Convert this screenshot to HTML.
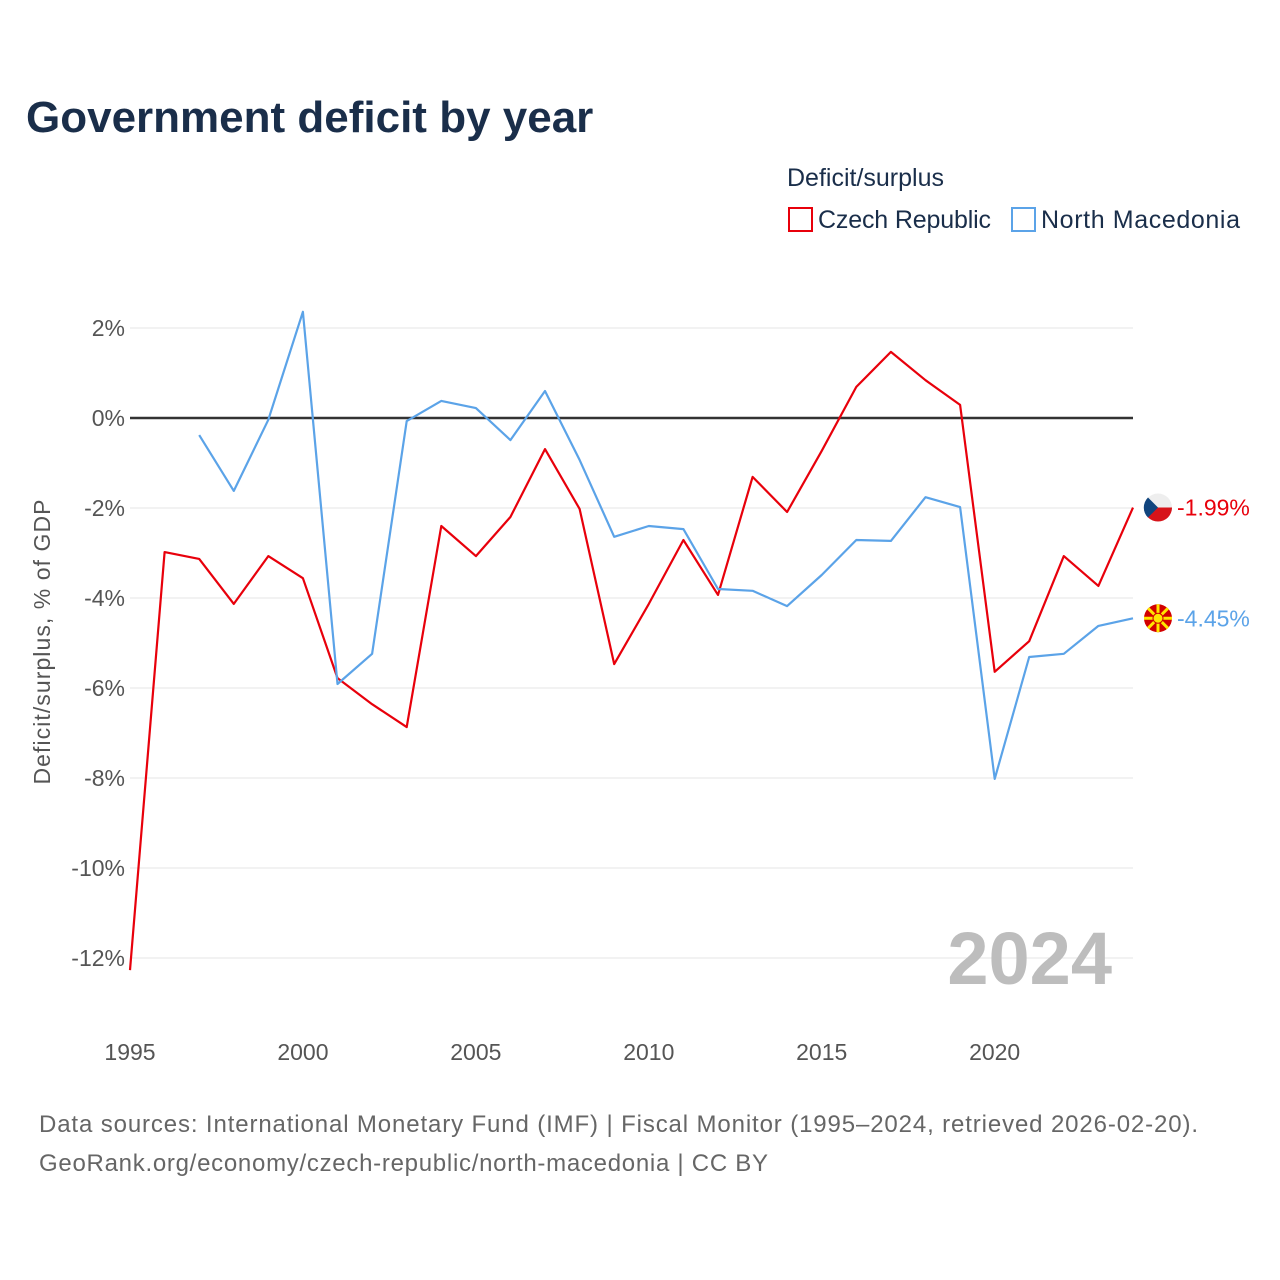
<!DOCTYPE html>
<html><head><meta charset="utf-8">
<style>
html,body{margin:0;padding:0;background:#fff;width:1280px;height:1280px;overflow:hidden}
svg text{font-family:"Liberation Sans",sans-serif}
</style></head>
<body>
<svg id="chart" width="1280" height="1280" xmlns="http://www.w3.org/2000/svg">
<text x="26" y="132" font-size="44" font-weight="bold" fill="#1a2e4a">Government deficit by year</text>
<text x="787" y="186" font-size="25" fill="#1a2e4a">Deficit/surplus</text>
<g>
<rect x="789" y="208" width="23" height="23" fill="none" stroke="#e8000b" stroke-width="2"/>
<text x="818" y="228" font-size="25" fill="#1a2e4a" textLength="173">Czech Republic</text></g>
<g>
<rect x="1012" y="208" width="23" height="23" fill="none" stroke="#5ba3e8" stroke-width="2"/>
<text x="1041" y="228" font-size="25" fill="#1a2e4a" textLength="199">North Macedonia</text></g>
<g id="grid"></g>
<g id="xaxis"></g>
<text transform="translate(50,642) rotate(-90)" text-anchor="middle" font-size="23" fill="#555" textLength="285">Deficit/surplus, % of GDP</text>
<text x="1112" y="984" text-anchor="end" font-size="74" font-weight="bold" fill="#bdbdbd">2024</text>
<g id="series"></g>
<text x="39" y="1132" font-size="24" fill="#666" textLength="1159">Data sources: International Monetary Fund (IMF) | Fiscal Monitor (1995–2024, retrieved 2026-02-20).</text>
<text x="39" y="1171" font-size="24" fill="#666" textLength="729">GeoRank.org/economy/czech-republic/north-macedonia | CC BY</text>
</svg>
<script>
const years = [1995,1996,1997,1998,1999,2000,2001,2002,2003,2004,2005,2006,2007,2008,2009,2010,2011,2012,2013,2014,2015,2016,2017,2018,2019,2020,2021,2022,2023,2024];
const czech = [-12.27,-2.98,-3.13,-4.13,-3.07,-3.56,-5.78,-6.36,-6.87,-2.4,-3.07,-2.2,-0.69,-2.02,-5.47,-4.13,-2.71,-3.93,-1.31,-2.09,-0.73,0.69,1.47,0.84,0.29,-5.64,-4.96,-3.07,-3.73,-1.99];
const macedonia = [null,null,-0.38,-1.62,-0.04,2.36,-5.91,-5.24,-0.07,0.38,0.22,-0.49,0.6,-0.93,-2.64,-2.4,-2.47,-3.8,-3.84,-4.18,-3.49,-2.71,-2.73,-1.76,-1.98,-8.02,-5.31,-5.24,-4.62,-4.45];
const yTicks = [2,0,-2,-4,-6,-8,-10,-12];
const xTicks = [1995,2000,2005,2010,2015,2020];
const NS="http://www.w3.org/2000/svg";
const xs = y => 130 + (y-1995)*(1133-130)/29;
const ys = v => 418 - v*45;
function mk(t,a,p){const e=document.createElementNS(NS,t);for(const k in a)e.setAttribute(k,a[k]);p.appendChild(e);return e;}
const grid=document.getElementById('grid');
yTicks.forEach(v=>{
  const l=mk('line',{x1:130,x2:1133,y1:ys(v),y2:ys(v),stroke:v===0?'#333':'#e6e6e6','stroke-width':v===0?2.5:1},grid);
  
  
  const t=mk('text',{x:125,y:ys(v)+8,'text-anchor':'end','font-size':23,fill:'#555'},grid);
  t.textContent=v+'%';
  
  
});
const xa=document.getElementById('xaxis');
xTicks.forEach(y=>{
  const t=mk('text',{x:xs(y),y:1060,'text-anchor':'middle','font-size':23,fill:'#555'},xa);
  t.textContent=y;
  
  
});
const sg=document.getElementById('series');
function line(vals,color,name){
  let d='';let pen=false;
  vals.forEach((v,i)=>{if(v===null){pen=false;return;}d+=(pen?'L':'M')+xs(years[i]).toFixed(1)+','+ys(v).toFixed(1);pen=true;});
  const p=mk('path',{d:d,fill:'none',stroke:color,'stroke-width':2.2,'stroke-linejoin':'round'},sg);
  
  
}
line(czech,'#e8000b','czech-line');
line(macedonia,'#5ba3e8','north-macedonia-line');
const cz=czech[czech.length-1], mkv=macedonia[macedonia.length-1];
const f1=mk('g',{},sg);


const cy=ys(cz);
mk('circle',{cx:1158,cy:cy,r:14,fill:'#eee'},f1);
mk('path',{d:`M1144,${cy} A14,14 0 0,0 1172,${cy} Z`,fill:'#d7141a'},f1);
mk('path',{d:`M1148,${cy-10} L1158,${cy} L1148,${cy+10} A14,14 0 0,1 1148,${cy-10} Z`,fill:'#11457e'},f1);
const l1=mk('text',{x:1177,y:cy+8,'font-size':23,fill:'#e8000b'},sg);
l1.textContent=cz.toFixed(2)+'%';


const f2=mk('g',{},sg);


const my=ys(mkv);
mk('circle',{cx:1158,cy:my,r:14,fill:'#d20000'},f2);
for(let a=0;a<8;a++){const an=a*Math.PI/4;mk('line',{x1:1158,y1:my,x2:1158+14*Math.cos(an),y2:my+14*Math.sin(an),stroke:'#ffe600','stroke-width':3},f2);}
mk('circle',{cx:1158,cy:my,r:5,fill:'#ffe600',stroke:'#d20000','stroke-width':1},f2);
const l2=mk('text',{x:1177,y:my+8,'font-size':23,fill:'#5ba3e8'},sg);
l2.textContent=mkv.toFixed(2)+'%';


</script>
</body></html>
